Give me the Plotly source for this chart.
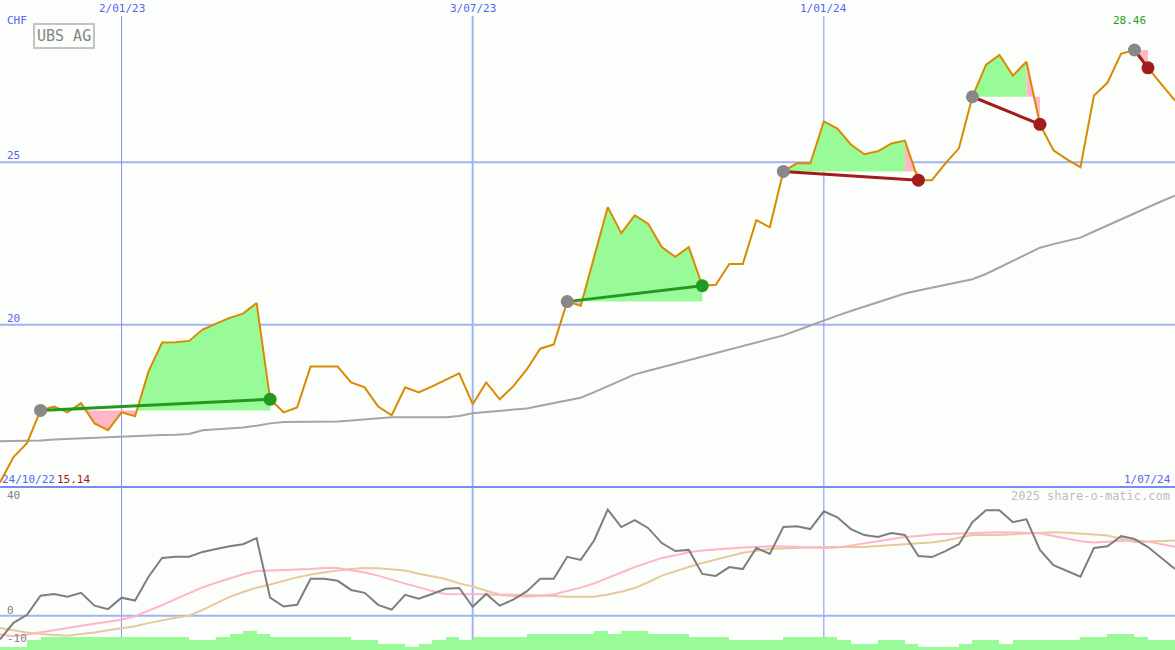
import pandas as pd
import plotly.graph_objects as go

# ---------------- data ----------------
dates = pd.date_range("2022-10-31", periods=88, freq="7D")

price = [15.14, 15.92, 16.35, 17.36, 17.48, 17.30, 17.58, 16.96, 16.75, 17.30,
         17.18, 18.56, 19.45, 19.46, 19.50, 19.85, 20.03, 20.21, 20.34, 20.67,
         17.70, 17.30, 17.45, 18.71, 18.71, 18.71, 18.22, 18.07, 17.48, 17.21,
         18.07, 17.91, 18.10, 18.31, 18.50, 17.55, 18.22, 17.70, 18.10, 18.62,
         19.26, 19.39, 20.71, 20.58, 22.10, 23.62, 22.82, 23.37, 23.10, 22.39,
         22.09, 22.39, 21.20, 21.23, 21.87, 21.87, 23.22, 23.00, 24.72, 24.97,
         24.97, 26.26, 26.04, 25.55, 25.25, 25.34, 25.58, 25.67, 24.45, 24.45,
         24.97, 25.43, 27.02, 28.00, 28.31, 27.67, 28.10, 26.17, 25.37, 25.09,
         24.85, 27.06, 27.45, 28.34, 28.46, 27.91, 27.40, 26.90]

ma_long = [16.41, 16.41, 16.41, 16.43, 16.46, 16.48, 16.50, 16.52, 16.54, 16.55,
           16.57, 16.58, 16.60, 16.61, 16.63, 16.75, 16.78, 16.80, 16.83, 16.89,
           16.96, 17.00, 17.00, 17.00, 17.00, 17.02, 17.05, 17.08, 17.12, 17.15,
           17.15, 17.15, 17.15, 17.15, 17.19, 17.27, 17.31, 17.35, 17.39, 17.42,
           17.50, 17.59, 17.67, 17.75, 17.92, 18.10, 18.29, 18.47, 18.58, 18.69,
           18.80, 18.91, 19.02, 19.13, 19.24, 19.34, 19.45, 19.56, 19.67, 19.82,
           19.98, 20.14, 20.28, 20.42, 20.55, 20.69, 20.83, 20.96, 21.05, 21.14,
           21.23, 21.32, 21.40, 21.56, 21.76, 21.96, 22.16, 22.37, 22.48, 22.58,
           22.68, 22.87, 23.06, 23.25, 23.44, 23.62, 23.80, 23.97]

momentum = [-8.3, -2.5, 0.3, 7.0, 7.6, 6.6, 8.0, 3.5, 2.3, 6.3,
            5.3, 13.6, 20.2, 20.6, 20.6, 22.3, 23.3, 24.3, 25.0, 27.1,
            6.3, 3.2, 3.8, 12.9, 12.9, 12.2, 9.0, 8.0, 3.8, 2.1,
            7.3, 5.9, 7.6, 9.4, 9.7, 3.1, 7.6, 3.5, 5.6, 8.5,
            12.9, 12.9, 20.6, 19.5, 26.4, 37.1, 31.0, 33.4, 30.6, 25.4,
            22.6, 23.0, 14.6, 13.9, 17.0, 16.3, 23.7, 21.6, 31.0, 31.3,
            30.3, 36.5, 34.4, 30.3, 28.2, 27.5, 28.9, 28.2, 20.9, 20.5,
            22.6, 25.0, 32.7, 36.9, 36.9, 32.7, 33.7, 23.0, 17.7, 15.7,
            13.6, 23.7, 24.3, 27.8, 26.8, 24.0, 20.2, 16.3]

momentum_fast = [-6.6, -7.2, -6.6, -5.9, -5.1, -4.3, -3.5, -2.8, -2.0, -1.4,
                 -0.2, 1.7, 3.7, 5.8, 7.8, 9.9, 11.5, 13.1, 14.5, 15.6,
                 15.8, 15.9, 16.0, 16.3, 16.7, 16.7, 15.9, 15.1, 14.0, 12.5,
                 11.2, 10.0, 8.6, 7.6, 7.6, 7.6, 7.5, 7.2, 6.8, 6.6,
                 7.0, 7.4, 8.6, 9.8, 11.3, 13.3, 15.1, 17.0, 18.6, 20.2,
                 21.1, 22.2, 22.8, 23.2, 23.6, 23.8, 24.0, 24.3, 24.2, 24.0,
                 23.7, 23.7, 23.8, 24.5, 25.3, 26.1, 26.8, 27.5, 27.9, 28.4,
                 28.6, 28.8, 29.0, 29.1, 29.2, 29.1, 29.0, 28.8, 27.9, 27.0,
                 26.0, 25.6, 25.8, 26.1, 26.4, 25.9, 25.0, 24.1]

momentum_slow = [-4.3, -5.1, -5.9, -6.4, -6.8, -7.0, -6.4, -5.9, -5.1, -4.4,
                 -3.7, -2.6, -1.6, -0.7, 0.0, 2.0, 4.3, 6.6, 8.3, 9.8,
                 10.9, 12.2, 13.4, 14.4, 15.2, 15.8, 16.3, 16.7, 16.6, 16.3,
                 15.8, 14.7, 13.7, 12.8, 11.3, 10.2, 8.7, 7.4, 7.3, 7.3,
                 7.1, 6.9, 6.6, 6.6, 6.6, 7.4, 8.4, 9.7, 11.7, 14.0,
                 15.6, 17.0, 18.4, 19.6, 21.0, 22.0, 22.7, 23.3, 23.5, 23.7,
                 24.0, 24.0, 24.0, 24.0, 24.0, 24.4, 24.8, 25.0, 25.3, 25.6,
                 26.3, 27.3, 28.2, 28.2, 28.2, 28.5, 28.7, 29.0, 29.2, 29.0,
                 28.8, 28.4, 28.0, 26.9, 25.8, 25.9, 26.1, 26.3]

volume = [1, 1, 3, 4, 4, 4, 4, 4, 4, 4,
          4, 4, 4, 4, 3, 3, 4, 5, 6, 5,
          4, 4, 4, 4, 4, 4, 3, 3, 2, 2,
          1, 2, 3, 4, 3, 4, 4, 4, 4, 5,
          5, 5, 5, 5, 6, 5, 6, 6, 5, 5,
          5, 4, 4, 4, 3, 3, 3, 3, 4, 4,
          4, 4, 3, 2, 2, 3, 3, 2, 1, 1,
          1, 2, 3, 3, 2, 3, 3, 3, 3, 3,
          4, 4, 5, 5, 4, 3, 3]

entry_idx = [3, 42, 58, 72, 84]
exit_idx = [20, 52, 68, 77, 85]

price_grid = [20, 25]
osc_labels = [40, 0, -10]
date_grid = ["2023-01-02", "2023-07-03", "2024-01-01"]
date_grid_labels = ["2/01/23", "3/07/23", "1/01/24"]
date_grid_widths = [1, 2, 1]
start_label = "24/10/22"
end_label = "1/07/24"
low_label = "15.14"
high_label = "28.46"

# ---------------- styling ----------------
W, H = 1175, 650
SPLIT = 487
BG = "#FCFEFC"
GRID = "#A3B3F2"
VGRID = "#7F93FA"
BLUE_TXT = "#5565F0"
ORANGE = "#DA8A00"
GREEN_FILL = "#98FB98"
PINK_FILL = "#FFB6C6"
GREEN_LINE = "#229A22"
RED_LINE = "#A31C1C"
FONT = "DejaVu Sans Mono"

def py(p):
    return 1 - p / H

upper_dom = [py(SPLIT), 1]
lower_dom = [0, py(SPLIT)]

fig = go.Figure()

# trade fills
for a, b in zip(entry_idx, exit_idx):
    base = price[a]
    runs = []
    for k in range(a, b):
        col = GREEN_FILL if price[k + 1] >= base else PINK_FILL
        if runs and runs[-1][0] == col:
            runs[-1][2] = k + 1
        else:
            runs.append([col, k, k + 1])
    for col, s, e in runs:
        xs = [dates[s]] + list(dates[s:e + 1]) + [dates[e]]
        ys = [base] + price[s:e + 1] + [base]
        fig.add_trace(go.Scatter(x=xs, y=ys, mode="lines", fill="toself",
                                 fillcolor=col, line=dict(width=0),
                                 hoverinfo="skip", xaxis="x", yaxis="y"))

# long moving average
fig.add_trace(go.Scatter(x=dates, y=ma_long, mode="lines",
                         line=dict(color="#A4A4A4", width=2),
                         xaxis="x", yaxis="y"))
# price
fig.add_trace(go.Scatter(x=dates, y=price, mode="lines",
                         line=dict(color=ORANGE, width=2),
                         xaxis="x", yaxis="y"))

# trade lines and markers
for a, b in zip(entry_idx, exit_idx):
    col = GREEN_LINE if price[b] >= price[a] else RED_LINE
    fig.add_trace(go.Scatter(x=[dates[a], dates[b]], y=[price[a], price[b]],
                             mode="lines", line=dict(color=col, width=3),
                             xaxis="x", yaxis="y"))
    fig.add_trace(go.Scatter(x=[dates[a]], y=[price[a]], mode="markers",
                             marker=dict(color="#888888", size=13),
                             xaxis="x", yaxis="y"))
    fig.add_trace(go.Scatter(x=[dates[b]], y=[price[b]], mode="markers",
                             marker=dict(color=col, size=13),
                             xaxis="x", yaxis="y"))

# lower panel lines
fig.add_trace(go.Scatter(x=dates, y=momentum_slow, mode="lines",
                         line=dict(color="#E6CA9C", width=2),
                         xaxis="x", yaxis="y2"))
fig.add_trace(go.Scatter(x=dates, y=momentum_fast, mode="lines",
                         line=dict(color="#FFB4C8", width=2),
                         xaxis="x", yaxis="y2"))
fig.add_trace(go.Scatter(x=dates, y=momentum, mode="lines",
                         line=dict(color="#7E7E7E", width=2),
                         xaxis="x", yaxis="y2"))

# volume bars
vol_x = dates[:len(volume)] + pd.Timedelta(days=3.5)
fig.add_trace(go.Bar(x=vol_x, y=volume, width=7 * 24 * 3600 * 1000,
                     marker=dict(color=GREEN_FILL, line=dict(width=0)),
                     xaxis="x", yaxis="y3"))

shapes = []
for v in price_grid:
    shapes.append(dict(type="line", xref="paper", yref="y", x0=0, x1=1,
                       y0=v, y1=v, line=dict(color=GRID, width=2), layer="below"))
for d, w in zip(date_grid, date_grid_widths):
    shapes.append(dict(type="line", xref="x", yref="paper", x0=d, x1=d,
                       y0=py(640), y1=py(16),
                       line=dict(color=VGRID if w == 1 else GRID, width=w),
                       layer="below"))
shapes.append(dict(type="line", xref="paper", yref="y2", x0=0, x1=1, y0=0, y1=0,
                   line=dict(color=GRID, width=2), layer="below"))
shapes.append(dict(type="line", xref="paper", yref="paper", x0=0, x1=1,
                   y0=py(SPLIT), y1=py(SPLIT), line=dict(color="#7A8AF0", width=2)))

ann = []
def txt(text, x, y, color, size=11, xanchor="left", xref="paper", **kw):
    ann.append(dict(text=text, x=x if xref != "paper" else x / W, y=py(y),
                    xref=xref, yref="paper", showarrow=False, xanchor=xanchor,
                    yanchor="middle", font=dict(family=FONT, size=size, color=color),
                    **kw))

txt("CHF", 5, 20, BLUE_TXT)
txt("UBS AG", 63.5, 36, "#858585", size=15, xanchor="center",
    bordercolor="#C4C4C4", borderwidth=2, borderpad=2, bgcolor=BG)
for d, lab in zip(date_grid, date_grid_labels):
    txt(lab, d, 8, BLUE_TXT, xanchor="center", xref="x")
txt(high_label, 1129, 20, "#22A022", xanchor="center")
for v in price_grid:
    txt(str(v), 5, 324 - (v - 20) * 32.47 - 6, BLUE_TXT)
txt(start_label, 0, 479, BLUE_TXT)
txt(low_label, 55, 479, "#A01818")
txt(end_label, 1173, 479, BLUE_TXT, xanchor="right")
txt("2025 share-o-matic.com", 1172, 496, "#BDBDBD", size=12, xanchor="right")
for v in osc_labels:
    txt(str(v), 5, 616 - v * 2.86 - 6, "#808080")

fig.update_layout(
    width=W, height=H, margin=dict(l=0, r=0, t=0, b=0),
    paper_bgcolor=BG, plot_bgcolor=BG, showlegend=False,
    xaxis=dict(range=[dates[0], dates[-1]], showgrid=False, zeroline=False,
               showticklabels=False, showline=False, ticks="", anchor="y"),
    yaxis=dict(domain=upper_dom, range=[15, 30], showgrid=False, zeroline=False,
               showticklabels=False, anchor="x"),
    yaxis2=dict(domain=lower_dom, range=[-12, 45], showgrid=False, zeroline=False,
                showticklabels=False, anchor="x"),
    yaxis3=dict(overlaying="y2", range=[0, 51], showgrid=False, zeroline=False,
                showticklabels=False, anchor="x", visible=False),
    shapes=shapes, annotations=ann, bargap=0,
)

fig.write_html("out.html",
               config={"displayModeBar": False, "staticPlot": True},
               post_script="document.body.style.margin='0';"
                           "document.body.style.padding='0';"
                           "document.body.style.background='" + BG + "';")
